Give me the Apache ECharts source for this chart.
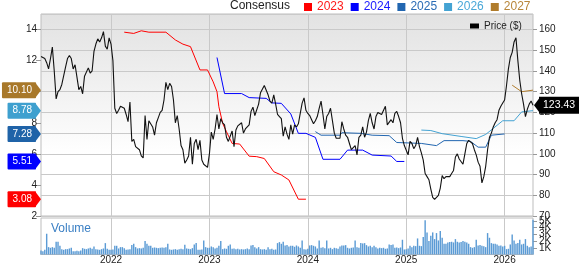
<!DOCTYPE html>
<html><head><meta charset="utf-8">
<script src="https://cdn.jsdelivr.net/npm/echarts@6/dist/echarts.min.js"></script>
<style>html,body{margin:0;padding:0;background:#fff}#c{width:579px;height:264px}</style>
</head><body><div id="c"></div>
<script>
// ---- data ----
const startWeek = '2021-04-19';
const weekCount = 261;
const yearLabels = ['2022', '2023', '2024', '2025', '2026'];

const price = [
  147, 147, 146, 144, 141, 146, 151.5, 140, 126.5, 130,
  131, 133.5, 134, 142, 146, 147.5, 146, 141, 143, 137,
  131, 132.5, 129, 137.5, 138, 141.5, 139, 140, 149.5, 153,
  155.5, 154, 156, 159, 152, 150.5, 156, 153, 145, 122,
  119.5, 121, 123, 123.5, 122, 119, 115.5, 125, 106, 107,
  103.5, 104, 102, 99, 98, 118.5, 107, 116, 115.5, 113,
  109, 115, 117.5, 120, 121, 126, 134.5, 131, 134, 132.5,
  126, 115, 118.5, 112, 104, 102, 95.5, 97, 99, 108,
  95, 105, 107, 102, 106.5, 97, 95, 94.5, 93.5, 100,
  110.5, 107, 112, 119, 112, 117, 115, 114, 108, 106,
  105.5, 111, 103.5, 111.5, 113.5, 113, 115, 110, 112, 112,
  114, 120.5, 122.5, 118.5, 118, 124, 129.5, 129, 133, 133.5,
  128.5, 125.5, 124.5, 128.5, 124, 119, 118, 117, 108.5, 113,
  109.5, 107, 114, 109.5, 114, 113, 114.5, 119.5, 124.5, 127,
  121, 119.5, 118.5, 116.5, 114.5, 116, 118, 122, 125.5, 119,
  112, 118, 119.5, 122, 116, 110, 107.5, 107, 107.5, 115.5,
  112, 109, 108, 105, 102, 103, 104, 99.5, 108, 109,
  113, 108, 110.5, 116, 119.5, 115, 112, 118, 120, 120.5,
  119, 119.5, 123, 114, 114, 116.5, 115, 119.5, 120.5, 118,
  115, 107.5, 104, 104, 99.5, 106, 105, 102.5, 104, 108,
  103.5, 100.5, 97, 90.5, 89, 87.5, 83, 79, 78, 78.5,
  80, 83.5, 89.5, 88, 89, 88.5, 89, 90.5, 92, 98.5,
  100, 97.5, 98, 95, 100, 105, 106.5, 107, 105, 102,
  99.5, 96, 94, 86, 89, 94, 102, 108, 110, 113,
  115, 116.5, 121, 123, 124.5, 126, 133, 141, 146.5, 149,
  154, 156, 145, 135.5, 129, 124, 118, 121.5, 124, 125.5,
  123.43
];

const volumeK = [
  0.6, 0.5, 0.7, 3.1, 1.1, 1.0, 1.1, 1.0, 1.9, 1.9,
  1.3, 0.8, 0.7, 0.8, 0.8, 0.9, 1.0, 0.5, 0.5, 0.55,
  0.5, 0.6, 0.95, 0.85, 0.8, 0.9, 1.0, 0.85, 1.2, 0.8,
  0.75, 0.7, 0.8, 0.9, 1.7, 0.85, 0.7, 0.7, 0.75, 1.3,
  1.3, 0.9, 1.1, 1.1, 0.95, 0.7, 0.75, 0.8, 1.4, 1.6,
  1.1, 0.9, 0.95, 0.9, 1.0, 2.0, 1.6, 1.3, 1.3, 1.0,
  1.05, 1.0, 0.95, 1.0, 1.05, 1.0, 1.1, 1.6, 0.75, 0.7,
  0.75, 0.8, 0.7, 0.8, 0.85, 0.8, 1.45, 0.9, 0.85, 0.8,
  0.95, 1.5, 1.7, 0.7, 0.7, 0.75, 2.1, 1.1, 1.0, 1.0,
  1.2, 1.1, 0.9, 1.0, 1.3, 2.0, 0.8, 0.9, 0.85, 1.3,
  1.5, 0.85, 0.9, 0.8, 0.85, 0.75, 0.8, 0.75, 0.8, 0.9,
  0.8, 1.35, 1.4, 1.1, 0.9, 1.1, 0.8, 0.75, 0.8, 0.7,
  1.1, 0.8, 0.85, 0.7, 0.75, 1.7, 1.85, 1.6, 1.9, 1.35,
  1.4, 1.2, 1.3, 1.3, 1.15, 1.35, 1.2, 1.0, 2.1, 0.8,
  0.75, 0.85, 1.35, 1.4, 1.3, 1.2, 0.9, 2.1, 1.0, 1.1,
  0.95, 2.1, 0.9, 1.0, 0.8, 1.0, 0.95, 0.85, 1.2, 1.35,
  1.35, 1.4, 1.0, 0.9, 1.0, 1.05, 2.1, 1.1, 1.0, 1.7,
  1.65, 1.7, 1.4, 1.2, 1.3, 1.1, 1.3, 1.1, 0.9, 1.0,
  0.95, 1.0, 0.85, 0.9, 1.5, 1.4, 1.5, 1.0, 1.05, 0.95,
  1.05, 2.2, 0.75, 0.8, 0.9, 1.3, 1.1, 1.3, 1.25, 2.4,
  1.3, 1.25, 2.6, 5.1, 3.3, 2.0, 2.8, 3.3, 2.3, 3.2,
  2.1, 3.5, 2.5, 1.6, 1.6, 1.8, 1.85, 1.9, 1.8, 2.3,
  1.9, 1.8, 1.85, 2.0, 1.9, 1.8, 1.6, 1.1, 1.0, 1.1,
  2.2, 1.35, 1.4, 1.3, 1.25, 1.1, 3.2, 2.5, 1.7, 1.6,
  1.6, 1.5, 1.3, 1.35, 1.2, 1.3, 0.8, 0.85, 1.5, 3.0,
  2.1, 1.6, 1.7, 2.2, 1.5, 1.6, 2.3, 1.3, 1.1, 1.2,
  5.2
];

// consensus estimates: [week index, EPS]
const consensusYears = ['2023', '2024', '2025', '2026', '2027'];
const cons2023 = [[44,13.83],[49,13.75],[53,13.92],[57,13.83],[66,13.83],[71,13.33],[75,13.06],[79,12.9],[84,11.4],[88,11.4],[91,10.63],[93,10.0],[94,9.03],[96,7.96],[98,7.43],[101,6.67],[105,6.63],[110,5.85],[114,5.82],[118,5.7],[123,4.85],[127,4.64],[131,4.32],[136,3.08],[140,3.08]];
const cons2024 = [[93,12.2],[97,9.88],[106,9.88],[110,9.62],[119,9.57],[122,9.28],[127,9.25],[132,8.57],[136,7.32],[140,7.32],[145,7.06],[149,5.65],[158,5.65],[162,6.24],[170,6.24],[175,5.92],[185,5.86],[188,5.51],[192,5.51]];
const cons2025 = [[145,7.43],[148,7.2],[158,7.2],[159,7.36],[169,7.32],[175,7.2],[184,7.17],[188,6.73],[201,6.67],[209,6.53],[213,6.85],[223,6.85],[227,6.8],[231,6.43],[235,6.43],[238,7.2],[245,7.28]];
const cons2026 = [[201,7.53],[206,7.5],[212,7.3],[222,7.12],[230,6.98],[235,7.25],[239,7.64],[244,8.13],[250,8.13],[254,8.7],[260,8.78]];
const cons2027 = [[249,10.42],[254,10.0],[260,10.10]];
const lastConsensus = [3.08, 5.51, 7.28, 8.78, 10.10];
const lastPrice = 123.43;

// ---- styling ----
const FONT = '"Liberation Sans", Arial, sans-serif';
const lineColors = ['#ff0000', '#0000ff', '#2266b0', '#44a3d3', '#b07c2c'];
const badgeColors = ['#ff0000', '#0000ff', '#1f63a8', '#3ea0cf', '#a8782a'];
const legendTextColors = ['#ff1a1a', '#1a1aff', '#2a6cb5', '#4aa8d8', '#b8863a'];

const DAY = 86400000;
const t0 = Date.parse(startWeek + 'T00:00:00Z');
const weeks = [];
for (let i = 0; i < weekCount; i++) weeks.push(new Date(t0 + i * 7 * DAY).toISOString().slice(0, 10));
function yearOf(idx) { return new Date(Date.parse(weeks[idx] + 'T00:00:00Z') + 3 * DAY).getUTCFullYear(); }
function isYearTick(idx) {
  const d = Date.parse(weeks[idx] + 'T00:00:00Z');
  const y = yearOf(idx);
  const diff = (d - Date.UTC(y, 0, 1)) / DAY;
  return diff >= -3 && diff <= 3 && yearLabels.indexOf(String(y)) >= 0;
}

const consData = [cons2023, cons2024, cons2025, cons2026, cons2027];
const gridLine = '#c9c9c9';

const series = [];
consensusYears.forEach((yr, i) => {
  series.push({
    name: yr, type: 'line', xAxisIndex: 0, yAxisIndex: 0,
    data: consData[i], showSymbol: false, symbol: 'none',
    lineStyle: { color: lineColors[i], width: 1 }, itemStyle: { color: lineColors[i] },
    z: 3, silent: true
  });
});
series.push({
  name: 'Price ($)', type: 'line', xAxisIndex: 0, yAxisIndex: 1,
  data: price, symbol: 'none', lineStyle: { color: '#111', width: 1.1 }, itemStyle: { color: '#000' }, z: 4, silent: true
});
series.push({
  name: 'Volume', type: 'bar', xAxisIndex: 1, yAxisIndex: 2,
  data: volumeK, barCategoryGap: '25%', itemStyle: { color: '#5b9bd5' }, silent: true
});
series.push({
  type: 'custom', xAxisIndex: 0, yAxisIndex: 0, clip: false, z: 20, silent: true,
  data: lastConsensus.map(v => [0, v]),
  renderItem: function (params, api) {
    const v = api.value(1);
    const p = api.coord([0, v]);
    const tip = params.coordSys.x;
    const col = badgeColors[params.dataIndex];
    return {
      type: 'group', children: [
        { type: 'polygon', shape: { points: [[tip - 6, p[1] - 8], [tip, p[1]], [tip - 6, p[1] + 8]] }, style: { fill: col } },
        { type: 'text', x: tip - 5, y: p[1], style: { text: v.toFixed(2), align: 'right', verticalAlign: 'middle', fill: '#fff', font: '10px ' + FONT, backgroundColor: col, padding: [3, 4, 3, 5], borderRadius: 1 } }
      ]
    };
  }
});
series.push({
  type: 'custom', xAxisIndex: 0, yAxisIndex: 1, clip: false, z: 20, silent: true,
  data: [[weekCount - 1, lastPrice]],
  renderItem: function (params, api) {
    const p = api.coord([api.value(0), api.value(1)]);
    const tip = params.coordSys.x + params.coordSys.width + 1;
    return {
      type: 'group', children: [
        { type: 'polygon', shape: { points: [[tip, p[1]], [tip + 6, p[1] - 8], [tip + 6, p[1] + 8]] }, style: { fill: '#000' } },
        { type: 'text', x: tip + 5, y: p[1], style: { text: api.value(1).toFixed(2), align: 'left', verticalAlign: 'middle', fill: '#fff', font: '10.5px ' + FONT, backgroundColor: '#000', padding: [3, 4, 3, 4] } }
      ]
    };
  }
});

const chart = echarts.init(document.getElementById('c'), null, { renderer: 'canvas' });
chart.setOption({
  animation: false,
  backgroundColor: '#fff',
  textStyle: { fontFamily: FONT },
  graphic: [
    { type: 'text', left: 230, top: 0, style: { text: 'Consensus', font: '12px ' + FONT, fill: '#222' } },
    { type: 'text', left: 51, top: 223, style: { text: 'Volume', font: '12px ' + FONT, fill: '#3a7fc4' }, z: 10 }
  ],
  legend: [
    {
      left: 304, top: 1, padding: 0, itemWidth: 8, itemHeight: 8, itemGap: 7, icon: 'rect',
      selectedMode: false,
      data: consensusYears.map((y, i) => ({ name: y, textStyle: { color: legendTextColors[i] } })),
      textStyle: { fontSize: 12, fontFamily: FONT }
    },
    {
      left: 470, top: 21, padding: 0, itemWidth: 9, itemHeight: 5, icon: 'rect', selectedMode: false,
      data: ['Price ($)'], textStyle: { fontSize: 10, color: '#222', fontFamily: FONT }
    }
  ],
  grid: [
    { left: 41, right: 46, top: 14, height: 202, show: true, borderColor: '#bdbdbd', borderWidth: 1, outerBoundsMode: 'none',
      backgroundColor: { type: 'linear', x: 0, y: 0, x2: 0, y2: 1, colorStops: [{ offset: 0, color: '#e2e2e2' }, { offset: 0.7, color: '#ffffff' }, { offset: 1, color: '#ffffff' }] } },
    { left: 41, right: 46, top: 218, height: 36.5, show: true, borderColor: '#bdbdbd', borderWidth: 1, backgroundColor: '#fff', outerBoundsMode: 'none' }
  ],
  xAxis: [
    { type: 'category', gridIndex: 0, data: weeks, boundaryGap: false,
      axisLine: { show: false }, axisTick: { show: false }, axisLabel: { show: false },
      splitLine: { show: true, interval: (i) => isYearTick(i), lineStyle: { color: gridLine, width: 1 } } },
    { type: 'category', gridIndex: 1, data: weeks, boundaryGap: false,
      axisLine: { show: true, lineStyle: { color: '#bdbdbd' } }, axisTick: { show: false },
      axisLabel: { show: true, interval: (i) => isYearTick(i), formatter: (v, i) => String(yearOf(i)), fontSize: 10, color: '#222', margin: 1, fontFamily: FONT },
      splitLine: { show: true, interval: (i) => isYearTick(i), lineStyle: { color: gridLine, width: 1 } } }
  ],
  yAxis: [
    { type: 'value', gridIndex: 0, position: 'left', min: 2, max: 15, interval: 2,
      axisLine: { show: false }, axisTick: { show: true, length: 5, lineStyle: { color: '#999' } },
      axisLabel: { fontSize: 10, color: '#222', margin: 4, showMaxLabel: false, fontFamily: FONT },
      splitLine: { show: false } },
    { type: 'value', gridIndex: 0, position: 'right', min: 70, max: 167.5, interval: 10,
      axisLine: { show: false }, axisTick: { show: true, length: 4, lineStyle: { color: '#999' } },
      axisLabel: { fontSize: 10, color: '#222', margin: 6, showMaxLabel: false, fontFamily: FONT },
      splitLine: { show: true, lineStyle: { color: gridLine, width: 1 } } },
    { type: 'value', gridIndex: 1, position: 'right', min: 0, max: 5.45, interval: 1,
      axisLine: { show: false }, axisTick: { show: true, length: 4, lineStyle: { color: '#999' } },
      axisLabel: { fontSize: 10, color: '#222', margin: 6, showMaxLabel: false, fontFamily: FONT,
        formatter: v => v === 0 ? '0' : v + 'K' },
      splitLine: { show: false } }
  ],
  series: series
});
</script>
</body></html>
